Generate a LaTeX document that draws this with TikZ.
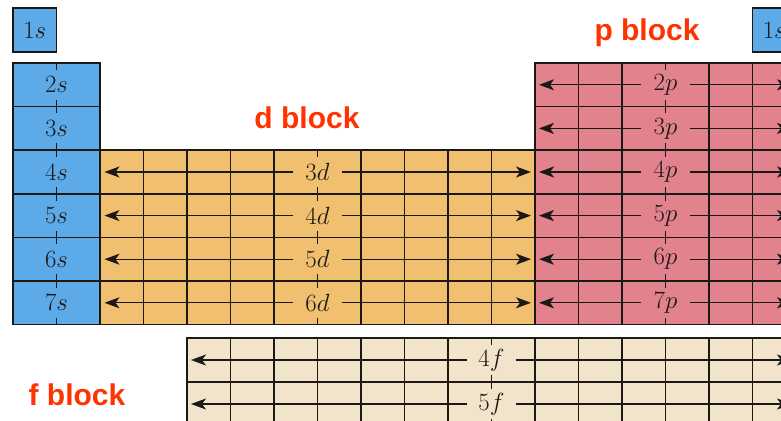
\documentclass[tikz,border=0pt]{standalone}
\usepackage{fontspec}
\newfontfamily\blkfont{Liberation Sans}
\usetikzlibrary{arrows.meta}
\definecolor{sblue}{RGB}{93,170,232}
\definecolor{dorange}{RGB}{240,192,112}
\definecolor{ppink}{RGB}{225,130,140}
\definecolor{fbeige}{RGB}{242,228,202}
\definecolor{lblred}{RGB}{255,51,0}
\definecolor{ink}{RGB}{28,24,22}
\tikzset{
  gridline/.style={draw=ink, line width=1.5pt},
  orb/.style={inner sep=0pt, minimum width=48pt, minimum height=30pt, font=\fontsize{27}{27}\selectfont, text=ink},
  arr/.style={draw=ink, line width=1.3pt, -{Stealth[length=15pt,width=11pt,inset=4pt]}},
  blocktxt/.style={text=lblred, font=\blkfont\bfseries\fontsize{30}{30}\selectfont},
  onebox/.style={draw=ink, line width=1.5pt, fill=sblue, minimum width=43.5pt, minimum height=44pt, inner sep=0pt, font=\fontsize{27}{27}\selectfont, text=ink}
}
\begin{document}
\begin{tikzpicture}[x=1pt,y=-1pt]
\useasboundingbox (0,0) rectangle (781,420);
\clip (0,0) rectangle (781,420);
% fills
\fill[sblue] (13,63) rectangle (100,324.6);
\fill[dorange] (100,150.2) rectangle (535,324.6);
\fill[ppink] (535,63) rectangle (796,324.6);
\fill[fbeige] (187,338) rectangle (796,426);
% s block grid
\draw[gridline] (13,63) rectangle (100,324.6);
\foreach \r in {3,...,7} \draw[gridline] (13,{63+(\r-2)*43.6}) -- (100,{63+(\r-2)*43.6});
\draw[gridline] (56.5,63) -- (56.5,324.6);
% d block grid
\draw[gridline] (100,150.2) rectangle (535,324.6);
\foreach \k in {1,...,9} \draw[gridline] ({100+43.5*\k},150.2) -- ({100+43.5*\k},324.6);
\foreach \r in {5,6,7} \draw[gridline] (100,{63+(\r-2)*43.6}) -- (535,{63+(\r-2)*43.6});
% p block grid
\draw[gridline] (535,63) rectangle (796,324.6);
\foreach \k in {1,...,5} \draw[gridline] ({535+43.5*\k},63) -- ({535+43.5*\k},324.6);
\foreach \r in {3,...,7} \draw[gridline] (535,{63+(\r-2)*43.6}) -- (796,{63+(\r-2)*43.6});
% f block grid
\draw[gridline] (187,338) rectangle (796,426);
\foreach \k in {1,...,13} \draw[gridline] ({187+43.5*\k},338) -- ({187+43.5*\k},426);
\draw[gridline] (187,382) -- (796,382);
% 1s boxes
\node[onebox] (s1) at (34.75,30) {$1s$};
\node[onebox] (he) at (774.25,30) {$1s$};
% s labels
\foreach \n in {2,...,7}
  \node[orb, fill=sblue] (s\n) at (56.5,{63+(\n-2)*43.6+21.8}) {$\n s$};
% d labels and arrows
\foreach \r [evaluate=\r as \m using int(\r-1)] in {4,...,7} {
  \node[orb, fill=dorange] (d\m) at (317.5,{63+(\r-2)*43.6+21.8}) {$\m d$};
  \coordinate (dl\m) at (104.5,{63+(\r-2)*43.6+21.8});
  \coordinate (dr\m) at (531,{63+(\r-2)*43.6+21.8});
  \draw[arr] (d\m.west) -- (dl\m);
  \draw[arr] (d\m.east) -- (dr\m);
}
% p labels and arrows
\foreach \n in {2,...,7} {
  \node[orb, fill=ppink] (p\n) at (665.5,{63+(\n-2)*43.6+21.8}) {$\n p$};
  \coordinate (pl\n) at (539,{63+(\n-2)*43.6+21.8});
  \coordinate (pr\n) at (792,{63+(\n-2)*43.6+21.8});
  \draw[arr] (p\n.west) -- (pl\n);
  \draw[arr] (p\n.east) -- (pr\n);
}
% f labels and arrows
\foreach \n/\y in {4/360,5/404} {
  \node[orb, fill=fbeige] (f\n) at (491.5,\y) {$\n f$};
  \coordinate (fl\n) at (191,\y);
  \coordinate (fr\n) at (792,\y);
  \draw[arr] (f\n.west) -- (fl\n);
  \draw[arr] (f\n.east) -- (fr\n);
}
% block titles
\node[blocktxt] (pb) at (647,33) {p block};
\node[blocktxt] (db) at (307,118) {d block};
\node[blocktxt] (fb) at (77,395) {f block};
\end{tikzpicture}
\end{document}
